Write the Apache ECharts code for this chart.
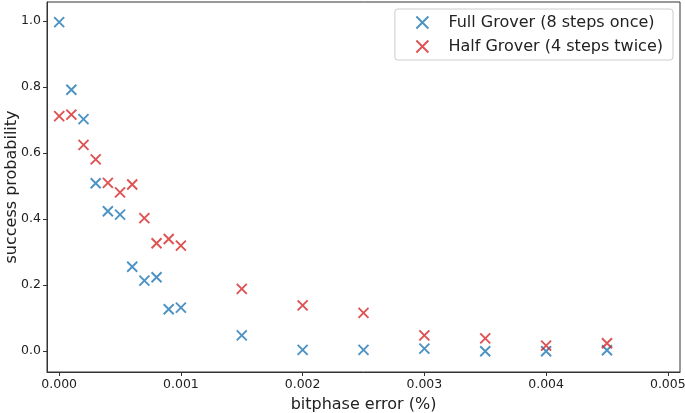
<!DOCTYPE html>
<html>
<head>
<meta charset="utf-8">
<script src="https://cdn.jsdelivr.net/npm/echarts@6/dist/echarts.min.js"></script>
<style>html,body{margin:0;padding:0;background:#fff}#c{width:685px;height:413px}</style>
</head>
<body>
<div id="c"></div>
<script>
const errors = [0, 0.0001, 0.0002, 0.0003, 0.0004, 0.0005, 0.0006, 0.0007, 0.0008, 0.0009, 0.001, 0.0015, 0.002, 0.0025, 0.003, 0.0035, 0.004, 0.0045];
const fullGrover = [0.997, 0.792, 0.703, 0.509, 0.424, 0.414, 0.256, 0.214, 0.224, 0.127, 0.132, 0.048, 0.004, 0.004, 0.008, 0.0, 0.0, 0.003];
const halfGrover = [0.712, 0.717, 0.625, 0.581, 0.510, 0.481, 0.505, 0.403, 0.327, 0.340, 0.320, 0.189, 0.139, 0.116, 0.048, 0.039, 0.017, 0.024];
const xTicks = [0, 0.001, 0.002, 0.003, 0.004, 0.005];
const yTicks = [0, 0.2, 0.4, 0.6, 0.8, 1.0];
const seriesNames = ['Full Grover (8 steps once)', 'Half Grover (4 steps twice)'];

const FONT = 'DejaVu Sans';
const cross = 'path://M0,0L10,10M10,0L0,10';
function mk(name, vals, color) {
  return {
    name: name, type: 'scatter', symbol: cross, symbolSize: 10,
    itemStyle: { color: 'none', borderColor: color, borderWidth: 1.9 },
    data: errors.map((x, i) => [x, vals[i]])
  };
}
const chart = echarts.init(document.getElementById('c'));
chart.setOption({
  animation: false,
  grid: { left: 47, right: 5, top: 2, bottom: 41, show: true, borderColor: '#333', borderWidth: 1,
    containLabel: false, outerBoundsMode: 'none' },
  legend: {
    right: 12, top: 9, orient: 'vertical', itemGap: 7,
    padding: [5, 10, 5, 19],
    borderColor: '#ccc', borderWidth: 1, borderRadius: 3,
    itemWidth: 14, itemHeight: 12,
    textStyle: { fontFamily: FONT, fontSize: 16, color: '#222', padding: [0, 0, 0, 14] },
    data: [
      { name: seriesNames[0], icon: cross, itemStyle: { color: 'none', borderColor: '#1f77b4', borderWidth: 1.9 } },
      { name: seriesNames[1], icon: cross, itemStyle: { color: 'none', borderColor: '#d62728', borderWidth: 1.9 } }
    ]
  },
  xAxis: {
    type: 'value', min: -0.0001, max: 0.0051,
    name: 'bitphase error (%)', nameLocation: 'middle', nameGap: 25, nameMoveOverlap: false,
    nameTextStyle: { fontFamily: FONT, fontSize: 16, color: '#222' },
    axisLine: { show: true, onZero: false, lineStyle: { color: '#333' } },
    axisTick: { show: true, length: 4, customValues: xTicks, lineStyle: { color: '#333' } },
    axisLabel: { customValues: xTicks, fontFamily: FONT, fontSize: 12.5, color: '#222', margin: 6,
      formatter: v => v.toFixed(3) },
    splitLine: { show: false }
  },
  yAxis: {
    type: 'value', min: -0.063, max: 1.058,
    name: 'success probability', nameLocation: 'middle', nameGap: 27, nameMoveOverlap: false,
    nameTextStyle: { fontFamily: FONT, fontSize: 16, color: '#222' },
    axisLine: { show: true, onZero: false, lineStyle: { color: '#333' } },
    axisTick: { show: true, length: 4, customValues: yTicks, lineStyle: { color: '#333' } },
    axisLabel: { customValues: yTicks, fontFamily: FONT, fontSize: 12.5, color: '#222', margin: 6,
      formatter: v => v.toFixed(1) },
    splitLine: { show: false }
  },
  series: [mk(seriesNames[0], fullGrover, '#1f77b4'), mk(seriesNames[1], halfGrover, '#d62728')]
});
</script>
</body>
</html>
